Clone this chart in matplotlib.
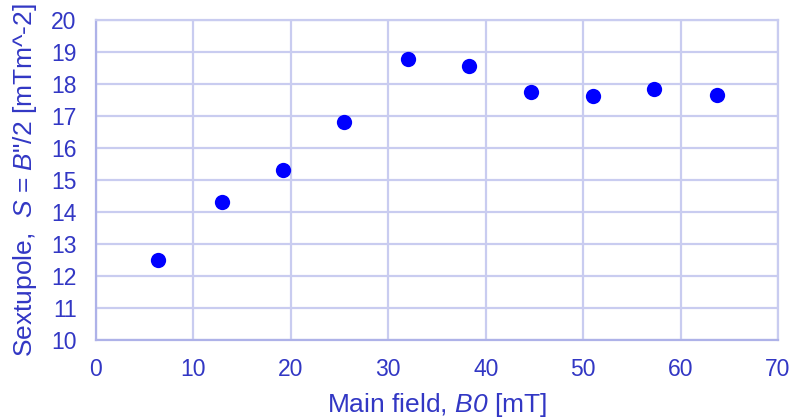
import matplotlib
matplotlib.use('Agg')
import matplotlib.pyplot as plt

# main field B0 [mT] and sextupole S [mTm^-2]
campo = [6.4, 12.9, 19.2, 25.5, 32.0, 38.3, 44.6, 51.0, 57.3, 63.7]
sextupolo = [12.5, 14.31, 15.31, 16.81, 18.78, 18.56, 17.75, 17.63, 17.84, 17.66]

xticks = [0, 10, 20, 30, 40, 50, 60, 70]
yticks = [10, 11, 12, 13, 14, 15, 16, 17, 18, 19, 20]

azulTexto = '#3237c4'
rejilla = '#c9ccf0'
borde = '#aeb2e8'

plt.rcParams['font.family'] = ['Liberation Sans', 'DejaVu Sans']
plt.rcParams['mathtext.fontset'] = 'custom'
plt.rcParams['mathtext.rm'] = 'Liberation Sans'
plt.rcParams['mathtext.it'] = 'Liberation Sans:italic'
# sf usado como cursiva que tambien inclina los digitos
plt.rcParams['mathtext.sf'] = 'Liberation Sans:italic'

fig = plt.figure(figsize=(7.96, 4.20), dpi=100)
ax = fig.add_axes([96/796, 1-340/420, (778-96)/796, (340-20)/420])

ax.plot(campo, sextupolo, 'o', color='#0000ff', markersize=11, markeredgewidth=0, zorder=3)

ax.set_xlim(0, 70)
ax.set_ylim(10, 20)
ax.set_xticks(xticks)
ax.set_yticks(yticks)
ax.grid(True, color=rejilla, linewidth=1.6)
ax.set_axisbelow(True)
for lado in ['top', 'right']:
	ax.spines[lado].set_color(rejilla)
	ax.spines[lado].set_linewidth(1.6)
for lado in ['left', 'bottom']:
	ax.spines[lado].set_color(borde)
	ax.spines[lado].set_linewidth(1.6)

ax.tick_params(axis='both', length=0, labelsize=16.5, labelcolor=azulTexto)
ax.tick_params(axis='y', pad=14)
ax.tick_params(axis='x', pad=13)

ax.set_xlabel(r'Main field, $\mathsf{B0}$ [mT]', fontsize=19, color=azulTexto)
ax.set_ylabel(r'Sextupole,  $\mathsf{S}$ = $\mathsf{B}$"/2 [mTm^-2]', fontsize=19, color=azulTexto)
ax.xaxis.set_label_coords(0.5, -0.16)
ax.yaxis.set_label_coords(-0.084, 0.5)

fig.savefig('out.png', dpi=100)
